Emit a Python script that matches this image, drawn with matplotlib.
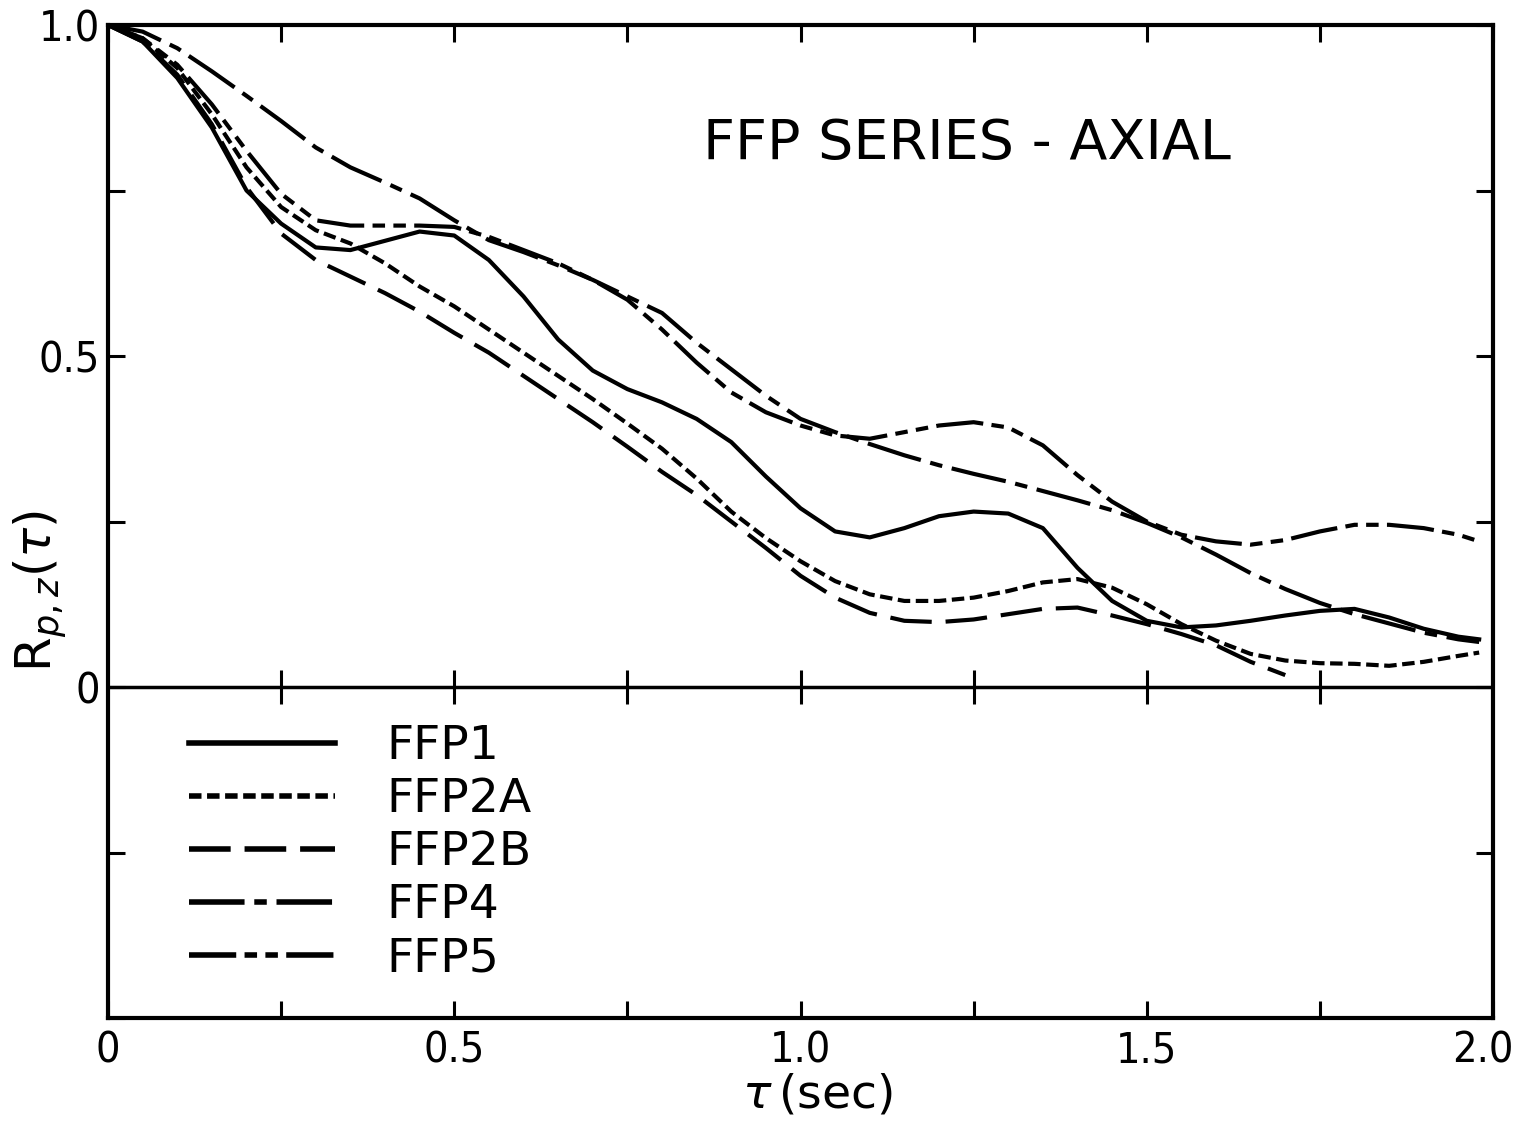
import matplotlib
matplotlib.use("Agg")
import matplotlib.pyplot as plt
import matplotlib.transforms as mtrans
from matplotlib.lines import Line2D

plt.rcParams['lines.scale_dashes'] = False

# ---- data ----
tau_ffp1 = [0, 0.05, 0.1, 0.15, 0.2, 0.25, 0.3, 0.35, 0.4, 0.45, 0.5, 0.55, 0.6, 0.65, 0.7,
            0.75, 0.8, 0.85, 0.9, 0.95, 1.0, 1.05, 1.1, 1.15, 1.2, 1.25, 1.3, 1.35, 1.4, 1.45,
            1.5, 1.55, 1.6, 1.65, 1.7, 1.75, 1.8, 1.85, 1.9, 1.95, 1.98]
r_ffp1 = [1.0, 0.975, 0.92, 0.845, 0.75, 0.70, 0.664, 0.66, 0.674, 0.688, 0.682, 0.645, 0.59, 0.525, 0.478,
          0.45, 0.43, 0.405, 0.37, 0.318, 0.27, 0.235, 0.226, 0.24, 0.258, 0.265, 0.262, 0.24, 0.18, 0.13,
          0.10, 0.09, 0.093, 0.10, 0.108, 0.115, 0.118, 0.105, 0.088, 0.076, 0.072]

tau_ffp2a = [0, 0.05, 0.1, 0.15, 0.2, 0.25, 0.3, 0.35, 0.4, 0.45, 0.5, 0.55, 0.6, 0.65, 0.7,
             0.75, 0.8, 0.85, 0.9, 0.95, 1.0, 1.05, 1.1, 1.15, 1.2, 1.25, 1.3, 1.35, 1.4, 1.45,
             1.5, 1.55, 1.6, 1.65, 1.7, 1.75, 1.8, 1.85, 1.9, 1.95, 1.98]
r_ffp2a = [1.0, 0.98, 0.935, 0.865, 0.785, 0.725, 0.69, 0.67, 0.64, 0.605, 0.575, 0.54, 0.505, 0.47, 0.435,
           0.398, 0.36, 0.315, 0.265, 0.225, 0.19, 0.16, 0.14, 0.13, 0.13, 0.135, 0.145, 0.158, 0.163, 0.15,
           0.125, 0.095, 0.07, 0.05, 0.04, 0.036, 0.035, 0.032, 0.038, 0.047, 0.052]

tau_ffp2b = [0, 0.05, 0.1, 0.15, 0.2, 0.25, 0.3, 0.35, 0.4, 0.45, 0.5, 0.55, 0.6, 0.65, 0.7,
             0.75, 0.8, 0.85, 0.9, 0.95, 1.0, 1.05, 1.1, 1.15, 1.2, 1.25, 1.3, 1.35, 1.4, 1.45,
             1.5, 1.55, 1.6, 1.65, 1.7]
r_ffp2b = [1.0, 0.975, 0.925, 0.85, 0.755, 0.685, 0.645, 0.62, 0.595, 0.567, 0.535, 0.505, 0.47, 0.435, 0.40,
           0.363, 0.325, 0.29, 0.25, 0.21, 0.168, 0.135, 0.112, 0.10, 0.098, 0.102, 0.11, 0.118, 0.12, 0.108,
           0.095, 0.08, 0.063, 0.038, 0.018]

tau_ffp4 = [0, 0.05, 0.1, 0.15, 0.2, 0.25, 0.3, 0.35, 0.4, 0.45, 0.5, 0.55, 0.6, 0.65, 0.7,
            0.75, 0.8, 0.85, 0.9, 0.95, 1.0, 1.05, 1.1, 1.15, 1.2, 1.25, 1.3, 1.35, 1.4, 1.45,
            1.5, 1.55, 1.6, 1.65, 1.7, 1.75, 1.8, 1.85, 1.9, 1.95, 1.98]
r_ffp4 = [1.0, 0.99, 0.965, 0.93, 0.893, 0.855, 0.815, 0.785, 0.762, 0.738, 0.705, 0.675, 0.657, 0.637, 0.615,
          0.59, 0.565, 0.52, 0.48, 0.44, 0.405, 0.385, 0.367, 0.35, 0.335, 0.322, 0.31, 0.296, 0.282, 0.267,
          0.248, 0.226, 0.20, 0.172, 0.148, 0.127, 0.11, 0.096, 0.082, 0.072, 0.068]

tau_ffp5 = [0, 0.05, 0.1, 0.15, 0.2, 0.25, 0.3, 0.35, 0.4, 0.45, 0.5, 0.55, 0.6, 0.65, 0.7,
            0.75, 0.8, 0.85, 0.9, 0.95, 1.0, 1.05, 1.1, 1.15, 1.2, 1.25, 1.3, 1.35, 1.4, 1.45,
            1.5, 1.55, 1.6, 1.65, 1.7, 1.75, 1.8, 1.85, 1.9, 1.95, 1.98]
r_ffp5 = [1.0, 0.98, 0.94, 0.88, 0.81, 0.745, 0.705, 0.697, 0.697, 0.697, 0.695, 0.68, 0.66, 0.64, 0.615,
          0.585, 0.54, 0.49, 0.445, 0.415, 0.395, 0.38, 0.375, 0.385, 0.395, 0.40, 0.392, 0.365, 0.32, 0.28,
          0.25, 0.23, 0.22, 0.215, 0.222, 0.235, 0.245, 0.245, 0.24, 0.23, 0.22]

series_labels = ['FFP1', 'FFP2A', 'FFP2B', 'FFP4', 'FFP5']
x_ticks = [0, 0.25, 0.5, 0.75, 1.0, 1.25, 1.5, 1.75, 2.0]
x_ticklabels = ['0', '', '0.5', '', '1.0', '', '1.5', '', '2.0']
y_ticks = [-0.5, -0.25, 0, 0.25, 0.5, 0.75, 1.0]
y_ticklabels = ['', '', '0', '', '0.5', '', '1.0']

# ---- styles ----
styles = [
    dict(linestyle='-'),
    dict(linestyle=(0, (9, 4))),
    dict(linestyle=(0, (30, 10))),
    dict(linestyle=(0, (40, 7, 9, 7))),
    dict(linestyle=(0, (34, 6, 9, 6, 9, 6))),
]

fig = plt.figure(figsize=(15.19, 11.29), dpi=100)
ax = fig.add_axes([108/1519, 1 - 1018/1129, (1493-108)/1519, (1018-25)/1129])

data = [(tau_ffp1, r_ffp1), (tau_ffp2a, r_ffp2a), (tau_ffp2b, r_ffp2b),
        (tau_ffp4, r_ffp4), (tau_ffp5, r_ffp5)]
lw = 3.0
for (t, r), st, lab in zip(data, styles, series_labels):
    ax.plot(t, r, color='black', lw=lw, label=lab, solid_joinstyle='round',
            dash_joinstyle='round', **st)

ax.set_xlim(0, 2.0)
ax.set_ylim(-0.5, 1.0)

# zero line with crossing ticks
ax.axhline(0, color='black', lw=2.5)
ax.plot(x_ticks[1:-1], [0]*len(x_ticks[1:-1]), linestyle='none', marker='|',
        markersize=24, markeredgewidth=2.2, color='black')

ax.set_xticks(x_ticks)
ax.set_xticklabels(x_ticklabels)
ax.set_yticks(y_ticks)
ax.set_yticklabels(y_ticklabels)
ax.tick_params(direction='in', length=12, width=2.2, top=True, right=True,
               labelsize=31)
ax.tick_params(axis='x', pad=8)
ax.tick_params(axis='y', pad=6)
for lbl in ax.get_xticklabels() + ax.get_yticklabels():
    lbl.set_fontstretch('condensed')
last = ax.get_xticklabels()[-1]
last.set_transform(last.get_transform() +
                   mtrans.ScaledTranslation(-7/72, 0, fig.dpi_scale_trans))
for sp in ax.spines.values():
    sp.set_linewidth(3)

ax.set_xlabel(r'$\tau\,$(sec)', fontsize=34)
ax.xaxis.set_label_coords(0.512, -0.055)
ax.set_ylabel(r'R$_{p,z}(\tau)$', fontsize=36)
ax.yaxis.set_label_coords(-0.028, 0.43)

ax.text(0.62, 0.88, 'FFP SERIES - AXIAL', transform=ax.transAxes, fontsize=40,
        ha='center', va='center')

handles = [Line2D([], [], color='black', lw=4.0, **st) for st in styles]
leg = ax.legend(handles, series_labels, loc='upper left', bbox_to_anchor=(0.0445, 0.315),
                frameon=False, fontsize=34, handlelength=3.1, handletextpad=1.1,
                labelspacing=0.17, borderaxespad=0)

fig.savefig('out.png', dpi=100)
